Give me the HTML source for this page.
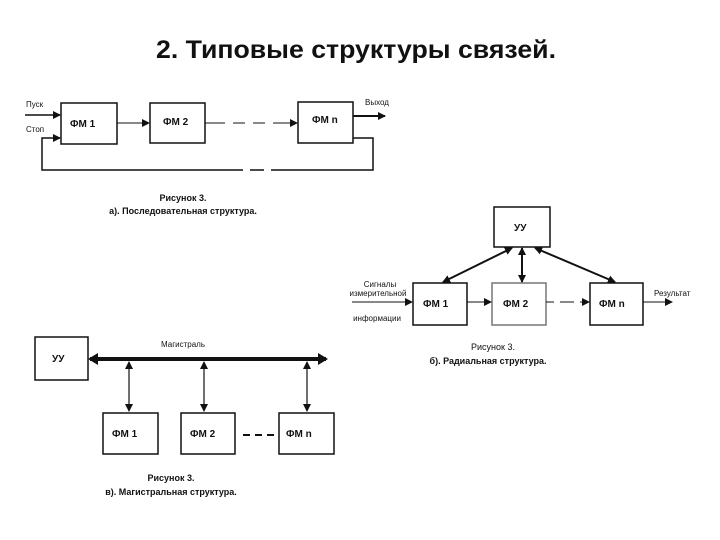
<!DOCTYPE html>
<html><head><meta charset="utf-8"><style>
html,body{margin:0;padding:0;background:#fff}
svg{display:block}
text{font-family:"Liberation Sans",sans-serif;fill:#111}
</style></head><body>
<svg width="720" height="540" viewBox="0 0 720 540" xmlns="http://www.w3.org/2000/svg">
<defs>
<marker id="a" markerWidth="8" markerHeight="8" refX="7" refY="4" orient="auto" markerUnits="userSpaceOnUse"><path d="M0,0 L8,4 L0,8 z" fill="#111"/></marker>
<marker id="as" markerWidth="8" markerHeight="8" refX="1" refY="4" orient="auto" markerUnits="userSpaceOnUse"><path d="M8,0 L0,4 L8,8 z" fill="#111"/></marker>
</defs>
<text x="356" y="58" font-size="25" font-weight="bold" text-anchor="middle" textLength="400" lengthAdjust="spacingAndGlyphs">2. Типовые структуры связей.</text>

<g stroke="#111" fill="none" stroke-width="1.5">
<!-- a) -->
<rect x="61" y="103" width="56" height="41"/>
<rect x="150" y="103" width="55" height="40"/>
<rect x="298" y="102" width="55" height="41"/>
<line x1="117" y1="123" x2="149" y2="123" stroke-width="1" marker-end="url(#a)"/>
<line x1="205" y1="123" x2="297" y2="123" stroke-width="1" stroke-dasharray="20,8,12,8,12,8" marker-end="url(#a)"/>
<line x1="25" y1="115" x2="60" y2="115" marker-end="url(#a)"/>
<line x1="353" y1="116" x2="385" y2="116" stroke-width="2" marker-end="url(#a)"/>
<polyline points="353,138 373,138 373,170 283,170"/>
<line x1="229" y1="170" x2="283" y2="170" stroke-dasharray="14,7"/>
<polyline points="229,170 42,170 42,138 60,138" marker-end="url(#a)"/>
<!-- b) -->
<rect x="494" y="207" width="56" height="40"/>
<rect x="413" y="283" width="54" height="42"/>
<rect x="492" y="283" width="54" height="42" stroke="#777"/>
<rect x="590" y="283" width="53" height="42"/>
<line x1="512" y1="248" x2="443" y2="282" stroke-width="2" marker-start="url(#as)" marker-end="url(#a)"/>
<line x1="522" y1="248" x2="522" y2="282" stroke-width="2" marker-start="url(#as)" marker-end="url(#a)"/>
<line x1="535" y1="248" x2="615" y2="282" stroke-width="2" marker-start="url(#as)" marker-end="url(#a)"/>
<line x1="352" y1="302" x2="412" y2="302" stroke-width="1" marker-end="url(#a)"/>
<line x1="467" y1="302" x2="491" y2="302" stroke-width="1" marker-end="url(#a)"/>
<line x1="546" y1="302" x2="589" y2="302" stroke-width="1" stroke-dasharray="8,6,14,6" marker-end="url(#a)"/>
<line x1="643" y1="302" x2="672" y2="302" stroke-width="1" marker-end="url(#a)"/>
<!-- c) -->
<rect x="35" y="337" width="53" height="43"/>
<rect x="103" y="413" width="55" height="41"/>
<rect x="181" y="413" width="54" height="41"/>
<rect x="279" y="413" width="55" height="41"/>
<line x1="90" y1="359" x2="326" y2="359" stroke-width="4"/>
<path d="M88,359 L98,353 L98,365 z M328,359 L318,353 L318,365 z" fill="#111" stroke="none"/>
<line x1="129" y1="362" x2="129" y2="411" stroke-width="1.2" marker-start="url(#as)" marker-end="url(#a)"/>
<line x1="204" y1="362" x2="204" y2="411" stroke-width="1.2" marker-start="url(#as)" marker-end="url(#a)"/>
<line x1="307" y1="362" x2="307" y2="411" stroke-width="1.2" marker-start="url(#as)" marker-end="url(#a)"/>
<line x1="243" y1="435" x2="276" y2="435" stroke-width="2" stroke-dasharray="7,5"/>
</g>

<g font-size="10" font-weight="bold">
<text x="70" y="127">ФМ 1</text>
<text x="163" y="125">ФМ 2</text>
<text x="312" y="123">ФМ n</text>
<text x="514" y="231">УУ</text>
<text x="423" y="307">ФМ 1</text>
<text x="503" y="307">ФМ 2</text>
<text x="599" y="307">ФМ n</text>
<text x="52" y="362">УУ</text>
<text x="112" y="437">ФМ 1</text>
<text x="190" y="437">ФМ 2</text>
<text x="286" y="437">ФМ n</text>
</g>
<g font-size="8">
<text x="26" y="107">Пуск</text>
<text x="26" y="132">Стоп</text>
<text x="365" y="105">Выход</text>
<text x="380" y="287" text-anchor="middle">Сигналы</text>
<text x="378" y="296" text-anchor="middle">измерительной</text>
<text x="377" y="321" text-anchor="middle">информации</text>
<text x="654" y="296">Результат</text>
<text x="183" y="347" text-anchor="middle">Магистраль</text>
</g>
<g font-size="9" font-weight="bold" text-anchor="middle">
<text x="183" y="201">Рисунок 3.</text>
<text x="183" y="214">а). Последовательная структура.</text>
<text x="493" y="350" font-weight="normal">Рисунок 3.</text>
<text x="488" y="364">б). Радиальная структура.</text>
<text x="171" y="481">Рисунок 3.</text>
<text x="171" y="495">в). Магистральная структура.</text>
</g>
</svg>
</body></html>
